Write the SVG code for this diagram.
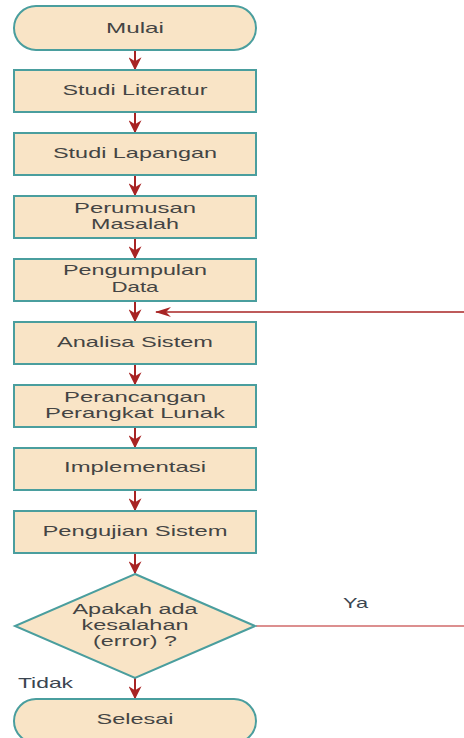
<svg xmlns="http://www.w3.org/2000/svg" width="464" height="738" viewBox="0 0 464 738">
<style>
.n{fill:#f9e4c6;stroke:#4a9e9e;stroke-width:2}
.t{font-family:"Liberation Sans",Arial,sans-serif;font-size:15px;fill:#444;text-anchor:middle}
.d{font-size:14px}
.c{stroke:#a82424;stroke-width:2;fill:none}
.l{font-family:"Liberation Sans",Arial,sans-serif;font-size:15px;fill:#3a4550}
</style>
<defs>
<marker id="ah" viewBox="0 0 10 10" refX="9" refY="5" markerWidth="13" markerHeight="13" orient="auto" markerUnits="userSpaceOnUse">
<path d="M0,0 L10,5 L0,10 L3,5 z" fill="#a82424"/>
</marker>
<marker id="ah2" viewBox="0 0 16 10" refX="15" refY="5" markerWidth="16" markerHeight="10" orient="auto" markerUnits="userSpaceOnUse">
<path d="M0,0 L16,5 L0,10 L5,5 z" fill="#a82424"/>
</marker>
</defs>
<rect width="464" height="738" fill="#fff"/>
<g id="connectors">
<line class="c" x1="135" y1="50" x2="135" y2="69" marker-end="url(#ah)"/>
<line class="c" x1="135" y1="112" x2="135" y2="132" marker-end="url(#ah)"/>
<line class="c" x1="135" y1="175" x2="135" y2="195" marker-end="url(#ah)"/>
<line class="c" x1="135" y1="238" x2="135" y2="258" marker-end="url(#ah)"/>
<line class="c" x1="135" y1="301" x2="135" y2="321" marker-end="url(#ah)"/>
<line class="c" x1="135" y1="364" x2="135" y2="384" marker-end="url(#ah)"/>
<line class="c" x1="135" y1="427" x2="135" y2="447" marker-end="url(#ah)"/>
<line class="c" x1="135" y1="490" x2="135" y2="510" marker-end="url(#ah)"/>
<line class="c" x1="135" y1="553" x2="135" y2="573" marker-end="url(#ah)"/>
<line class="c" x1="135" y1="678" x2="135" y2="698" marker-end="url(#ah)"/>
<line x1="256" y1="626" x2="464" y2="626" stroke="#d06a6a" stroke-width="1.5"/>
<line x1="464" y1="312" x2="156" y2="312" stroke="#a82424" stroke-width="1.5" marker-end="url(#ah2)"/>
<text class="l" x="343" y="608" textLength="25" lengthAdjust="spacingAndGlyphs">Ya</text>
<text class="l" x="18" y="688" textLength="55" lengthAdjust="spacingAndGlyphs">Tidak</text>
</g>
<g id="mulai"><rect class="n" x="14" y="6" width="242" height="44" rx="22"/><text class="t" x="135" y="33" textLength="58" lengthAdjust="spacingAndGlyphs">Mulai</text></g>
<g id="studi-literatur"><rect class="n" x="14" y="70" width="242" height="42"/><text class="t" x="135" y="95" textLength="145" lengthAdjust="spacingAndGlyphs">Studi Literatur</text></g>
<g id="studi-lapangan"><rect class="n" x="14" y="133" width="242" height="42"/><text class="t" x="135" y="158" textLength="164" lengthAdjust="spacingAndGlyphs">Studi Lapangan</text></g>
<g id="perumusan"><rect class="n" x="14" y="196" width="242" height="42"/><text class="t" x="135" y="213" textLength="122" lengthAdjust="spacingAndGlyphs">Perumusan</text><text class="t" x="135" y="229" textLength="88" lengthAdjust="spacingAndGlyphs">Masalah</text></g>
<g id="pengumpulan"><rect class="n" x="14" y="259" width="242" height="42"/><text class="t" x="135" y="275" textLength="144" lengthAdjust="spacingAndGlyphs">Pengumpulan</text><text class="t" x="135" y="292" textLength="47" lengthAdjust="spacingAndGlyphs">Data</text></g>
<g id="analisa"><rect class="n" x="14" y="322" width="242" height="42"/><text class="t" x="135" y="347" textLength="156" lengthAdjust="spacingAndGlyphs">Analisa Sistem</text></g>
<g id="perancangan"><rect class="n" x="14" y="385" width="242" height="42"/><text class="t" x="135" y="402" textLength="142" lengthAdjust="spacingAndGlyphs">Perancangan</text><text class="t" x="135" y="418" textLength="180" lengthAdjust="spacingAndGlyphs">Perangkat Lunak</text></g>
<g id="implementasi"><rect class="n" x="14" y="448" width="242" height="42"/><text class="t" x="135" y="472" textLength="142" lengthAdjust="spacingAndGlyphs">Implementasi</text></g>
<g id="pengujian"><rect class="n" x="14" y="511" width="242" height="42"/><text class="t" x="135" y="536" textLength="185" lengthAdjust="spacingAndGlyphs">Pengujian Sistem</text></g>
<g id="keputusan"><polygon class="n" points="135,574 255,626 135,678 15,626"/><text class="t d" x="135" y="614" textLength="125" lengthAdjust="spacingAndGlyphs">Apakah ada</text><text class="t d" x="135" y="630" textLength="107" lengthAdjust="spacingAndGlyphs">kesalahan</text><text class="t d" x="135" y="646" textLength="84" lengthAdjust="spacingAndGlyphs">(error) ?</text></g>
<g id="selesai"><rect class="n" x="14" y="699" width="242" height="44" rx="22"/><text class="t" x="135" y="724" textLength="77" lengthAdjust="spacingAndGlyphs">Selesai</text></g>
</svg>
